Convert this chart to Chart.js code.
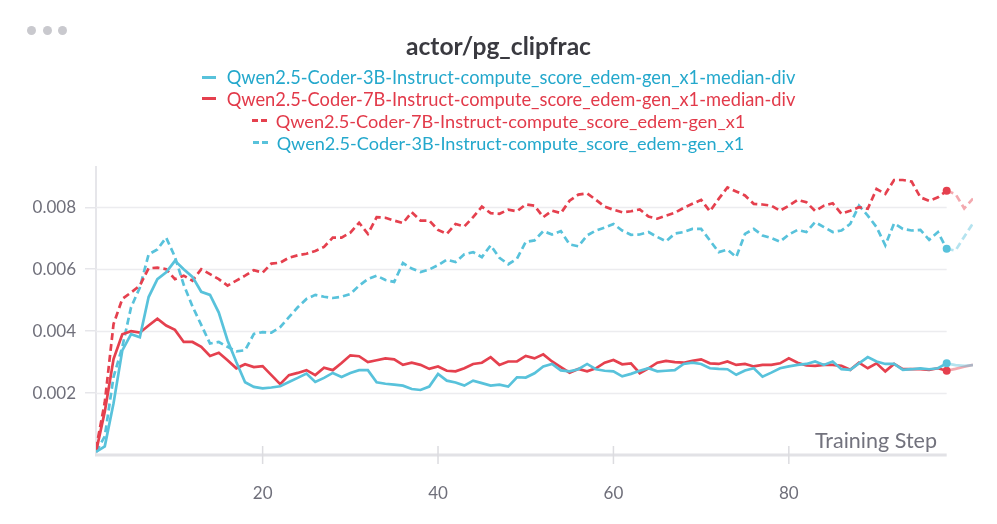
<!DOCTYPE html>
<html>
<head>
<meta charset="utf-8">
<script src="https://cdn.jsdelivr.net/npm/chart.js@4.4.1/dist/chart.umd.min.js"></script>
<style>
  html, body { margin:0; padding:0; background:#fff; width:997px; height:524px; overflow:hidden; }
  body { font-family: Lato, "Open Sans", sans-serif; }
  #wrap { position:relative; width:997px; height:524px; }
  #c { position:absolute; left:0; top:0; }
  .dot { position:absolute; top:25.5px; width:9px; height:9px; border-radius:50%; background:#c9c9ce; }
  #title { position:absolute; left:0; width:997px; top:30px; height:30px; display:flex; justify-content:center; align-items:center; }
  #title span { font-size:21px; font-weight:700; color:#3a3a40; white-space:nowrap; }
  .row { position:absolute; left:0; width:997px; height:22px; display:flex; justify-content:center; align-items:center; white-space:nowrap; }
  .row .t { font-size:17px; }
  .sw { display:inline-block; height:3px; }
  .dash { display:inline-flex; gap:3px; }
  .dash i { display:inline-block; width:6px; height:3px; }
  #xlabel { position:absolute; top:428px; left:800px; width:137px; height:24px; display:flex; justify-content:flex-end; align-items:center; }
  #xlabel span { font-size:19px; color:#72727d; white-space:nowrap; }
</style>
</head>
<body>
<div id="wrap">
  <canvas id="c" width="997" height="524"></canvas>
  <div class="dot" style="left:26.5px"></div>
  <div class="dot" style="left:42.5px"></div>
  <div class="dot" style="left:57.5px"></div>
  <div id="title"><span id="titleText">actor/pg_clipfrac</span></div>
  <div id="legend"></div>
  <div id="xlabel"><span id="xlabelText">Training Step</span></div>
</div>
<script>
// ---------------- data ----------------
const title = "actor/pg_clipfrac";
const xAxisLabel = "Training Step";

const steps = [
  1,2,3,4,5,6,7,8,9,10,
  11,12,13,14,15,16,17,18,19,20,
  21,22,23,24,25,26,27,28,29,30,
  31,32,33,34,35,36,37,38,39,40,
  41,42,43,44,45,46,47,48,49,50,
  51,52,53,54,55,56,57,58,59,60,
  61,62,63,64,65,66,67,68,69,70,
  71,72,73,74,75,76,77,78,79,80,
  81,82,83,84,85,86,87,88,89,90,
  91,92,93,94,95,96,97,98,99,100,
  101
];

const seriesNames = [
  "Qwen2.5-Coder-3B-Instruct-compute_score_edem-gen_x1-median-div",
  "Qwen2.5-Coder-7B-Instruct-compute_score_edem-gen_x1-median-div",
  "Qwen2.5-Coder-7B-Instruct-compute_score_edem-gen_x1",
  "Qwen2.5-Coder-3B-Instruct-compute_score_edem-gen_x1"
];

const coder3bMedianDiv = [
  0.00010,0.00028,0.00167,0.00338,0.00390,0.00380,0.00510,0.00568,0.00590,0.00627,
  0.00600,0.00575,0.00527,0.00517,0.00460,0.00370,0.00300,0.00235,0.00220,0.00215,
  0.00218,0.00222,0.00236,0.00249,0.00263,0.00236,0.00249,0.00265,0.00252,0.00265,
  0.00274,0.00274,0.00235,0.00230,0.00227,0.00224,0.00213,0.00210,0.00221,0.00262,
  0.00240,0.00234,0.00224,0.00240,0.00232,0.00224,0.00227,0.00221,0.00251,0.00250,
  0.00264,0.00286,0.00294,0.00273,0.00270,0.00277,0.00294,0.00277,0.00272,0.00270,
  0.00254,0.00262,0.00272,0.00280,0.00270,0.00272,0.00274,0.00294,0.00298,0.00294,
  0.00280,0.00278,0.00277,0.00259,0.00273,0.00280,0.00253,0.00266,0.00280,0.00286,
  0.00291,0.00294,0.00302,0.00291,0.00302,0.00277,0.00275,0.00296,0.00316,0.00302,
  0.00294,0.00294,0.00275,0.00277,0.00280,0.00277,0.00280,0.00296,0.00290,0.00288,
  0.00290
];

const coder7bMedianDiv = [
  0.00010,0.00140,0.00310,0.00390,0.00400,0.00395,0.00418,0.00440,0.00418,0.00404,
  0.00365,0.00365,0.00349,0.00320,0.00330,0.00306,0.00280,0.00293,0.00284,0.00287,
  0.00258,0.00229,0.00258,0.00265,0.00274,0.00258,0.00282,0.00274,0.00297,0.00322,
  0.00319,0.00300,0.00306,0.00312,0.00309,0.00291,0.00298,0.00291,0.00278,0.00286,
  0.00272,0.00270,0.00280,0.00294,0.00298,0.00316,0.00291,0.00302,0.00302,0.00320,
  0.00312,0.00325,0.00302,0.00284,0.00266,0.00278,0.00270,0.00280,0.00298,0.00307,
  0.00293,0.00296,0.00264,0.00280,0.00298,0.00304,0.00300,0.00298,0.00304,0.00309,
  0.00296,0.00294,0.00302,0.00291,0.00294,0.00286,0.00291,0.00291,0.00296,0.00312,
  0.00298,0.00289,0.00288,0.00291,0.00291,0.00288,0.00275,0.00298,0.00280,0.00296,
  0.00270,0.00294,0.00277,0.00277,0.00277,0.00275,0.00280,0.00272,0.00278,0.00285,
  0.00291
];

const coder7bGen = [
  0.00020,0.00170,0.00423,0.00504,0.00525,0.00547,0.00603,0.00605,0.00600,0.00568,
  0.00579,0.00563,0.00600,0.00584,0.00568,0.00547,0.00563,0.00579,0.00597,0.00589,
  0.00618,0.00621,0.00637,0.00645,0.00650,0.00659,0.00672,0.00702,0.00702,0.00718,
  0.00750,0.00714,0.00768,0.00766,0.00757,0.00749,0.00784,0.00757,0.00757,0.00727,
  0.00714,0.00746,0.00738,0.00768,0.00802,0.00781,0.00779,0.00792,0.00787,0.00809,
  0.00805,0.00768,0.00789,0.00781,0.00821,0.00841,0.00845,0.00824,0.00802,0.00792,
  0.00784,0.00787,0.00793,0.00770,0.00763,0.00773,0.00782,0.00798,0.00811,0.00824,
  0.00787,0.00827,0.00864,0.00851,0.00838,0.00811,0.00809,0.00805,0.00789,0.00805,
  0.00824,0.00816,0.00788,0.00805,0.00813,0.00779,0.00789,0.00800,0.00795,0.00859,
  0.00843,0.00888,0.00888,0.00883,0.00832,0.00821,0.00832,0.00853,0.00843,0.00796,
  0.00828
];

const coder3bGen = [
  0.00010,0.00060,0.00252,0.00349,0.00477,0.00541,0.00648,0.00664,0.00702,0.00640,
  0.00550,0.00480,0.00420,0.00360,0.00365,0.00349,0.00335,0.00338,0.00391,0.00397,
  0.00395,0.00413,0.00445,0.00477,0.00504,0.00517,0.00511,0.00507,0.00511,0.00520,
  0.00547,0.00568,0.00579,0.00565,0.00559,0.00620,0.00602,0.00591,0.00599,0.00613,
  0.00631,0.00623,0.00648,0.00655,0.00639,0.00677,0.00637,0.00616,0.00634,0.00688,
  0.00693,0.00723,0.00712,0.00723,0.00680,0.00674,0.00709,0.00725,0.00734,0.00746,
  0.00725,0.00711,0.00712,0.00720,0.00704,0.00690,0.00715,0.00720,0.00730,0.00730,
  0.00693,0.00655,0.00663,0.00639,0.00714,0.00730,0.00709,0.00701,0.00689,0.00712,
  0.00727,0.00720,0.00752,0.00736,0.00720,0.00725,0.00746,0.00805,0.00773,0.00736,
  0.00677,0.00748,0.00730,0.00725,0.00727,0.00695,0.00720,0.00666,0.00660,0.00705,
  0.00748
];

const yTicks = [0.002, 0.004, 0.006, 0.008];
const xTicks = [20, 40, 60, 80];
const xMin = 1, xAxisEnd = 98, xDataEnd = 101, yMin = 0, yMax = 0.0093;
const highlightStep = 98;

// ---------------- styles ----------------
const CYAN = 'rgb(88,194,219)';
const CYAN_FADE = 'rgba(88,194,219,0.45)';
const RED = 'rgb(229,64,78)';
const RED_FADE = 'rgba(229,64,78,0.45)';
const CYAN_TEXT = 'rgb(36,168,204)';
const RED_TEXT = 'rgb(226,58,74)';
const GRID = '#ececef';

const seriesDefs = [
  { name: seriesNames[0], data: coder3bMedianDiv, color: CYAN, fade: CYAN_FADE, text: CYAN_TEXT, dash: [] },
  { name: seriesNames[1], data: coder7bMedianDiv, color: RED, fade: RED_FADE, text: RED_TEXT, dash: [] },
  { name: seriesNames[2], data: coder7bGen, color: RED, fade: RED_FADE, text: RED_TEXT, dash: [7, 4] },
  { name: seriesNames[3], data: coder3bGen, color: CYAN, fade: CYAN_FADE, text: CYAN_TEXT, dash: [7, 4] }
];

// ---------------- HTML legend ----------------
const legend = document.getElementById('legend');
const rowCenters = [77, 98.5, 120.5, 142.5];
const rowTargets = [569, 569, 470, 468];
seriesDefs.forEach((s, i) => {
  const row = document.createElement('div');
  row.className = 'row';
  row.style.top = (rowCenters[i] - 11) + 'px';
  let sw;
  if (s.dash.length) {
    sw = document.createElement('span');
    sw.className = 'dash';
    sw.innerHTML = '<i></i><i></i>';
    sw.querySelectorAll('i').forEach(e => e.style.background = s.color);
    sw.style.marginRight = '9px';
  } else {
    sw = document.createElement('span');
    sw.className = 'sw';
    sw.style.width = '14px';
    sw.style.background = s.color;
    sw.style.marginRight = '11px';
  }
  const t = document.createElement('span');
  t.className = 't';
  t.textContent = s.name;
  t.style.color = s.text;
  row.appendChild(sw);
  row.appendChild(t);
  legend.appendChild(row);
  t.dataset.target = rowTargets[i];
});
function fit(el, target) {
  const w = el.getBoundingClientRect().width;
  const fs = parseFloat(getComputedStyle(el).fontSize);
  if (w > 0) el.style.fontSize = (fs * target / w).toFixed(2) + 'px';
}
document.querySelectorAll('.row .t').forEach(t => fit(t, parseFloat(t.dataset.target)));
fit(document.getElementById('titleText'), 185);
fit(document.getElementById('xlabelText'), 122);

// ---------------- chart ----------------
// grid lines and x axis line end at the last logged axis step (98); data continues faded beyond it
const axisPlugin = {
  id: 'axisDecor',
  beforeDatasetsDraw(chart) {
    const { ctx, chartArea, scales } = chart;
    const xEnd = scales.x.getPixelForValue(xAxisEnd);
    ctx.save();
    ctx.strokeStyle = GRID;
    ctx.lineWidth = 1.5;
    yTicks.forEach(v => {
      const py = Math.round(scales.y.getPixelForValue(v)) + 0.5;
      ctx.beginPath();
      ctx.moveTo(chartArea.left, py);
      ctx.lineTo(xEnd, py);
      ctx.stroke();
    });
    ctx.strokeStyle = '#e2e2e6';
    ctx.lineWidth = 3;
    ctx.beginPath();
    ctx.moveTo(chartArea.left - 1, chartArea.bottom);
    ctx.lineTo(xEnd, chartArea.bottom);
    ctx.stroke();
    ctx.strokeStyle = '#dcdce0';
    ctx.lineWidth = 1.5;
    xTicks.forEach(v => {
      const px = scales.x.getPixelForValue(v);
      ctx.beginPath();
      ctx.moveTo(px, chartArea.bottom - 9);
      ctx.lineTo(px, chartArea.bottom + 9);
      ctx.stroke();
    });
    ctx.restore();
  }
};

const datasets = seriesDefs.map((s, idx) => ({
  label: s.name,
  data: steps.map((x, i) => ({ x, y: s.data[i] })),
  borderColor: s.color,
  backgroundColor: s.color,
  borderWidth: 2.7,
  borderDash: s.dash,
  tension: 0,
  order: idx,
  pointRadius: ctx => (ctx.raw && ctx.raw.x === highlightStep ? 4 : 0),
  pointHoverRadius: 0,
  pointBorderWidth: 0,
  segment: {
    borderColor: ctx => (ctx.p0.parsed.x >= xAxisEnd ? s.fade : undefined)
  }
}));

new Chart(document.getElementById('c'), {
  type: 'line',
  data: { datasets },
  plugins: [axisPlugin],
  options: {
    responsive: false,
    animation: false,
    events: [],
    layout: { padding: { top: 167, right: 24, left: 0, bottom: 0 } },
    plugins: { legend: { display: false }, title: { display: false }, tooltip: { enabled: false } },
    scales: {
      x: {
        type: 'linear',
        min: xMin, max: xDataEnd,
        afterBuildTicks: sc => { sc.ticks = xTicks.map(v => ({ value: v })); },
        afterFit: sc => { sc.height = 69; },
        grid: { display: false, drawTicks: false },
        border: { display: false },
        ticks: {
          color: '#6f6f7a',
          font: { family: 'Lato', size: 17 },
          padding: 28,
          maxRotation: 0,
          autoSkip: false
        }
      },
      y: {
        min: yMin, max: yMax,
        afterBuildTicks: sc => { sc.ticks = yTicks.map(v => ({ value: v })); },
        afterFit: sc => { sc.width = 96; },
        grid: { color: '#e6e6ea', lineWidth: 1.5, drawOnChartArea: false, drawTicks: true, tickLength: 11, tickColor: '#e6e6ea' },
        border: { display: true, color: '#e6e6ea', width: 2 },
        ticks: {
          color: '#6f6f7a',
          font: { family: 'Lato', size: 17 },
          padding: 9,
          callback: v => v.toFixed(3)
        }
      }
    }
  }
});
</script>
</body>
</html>
